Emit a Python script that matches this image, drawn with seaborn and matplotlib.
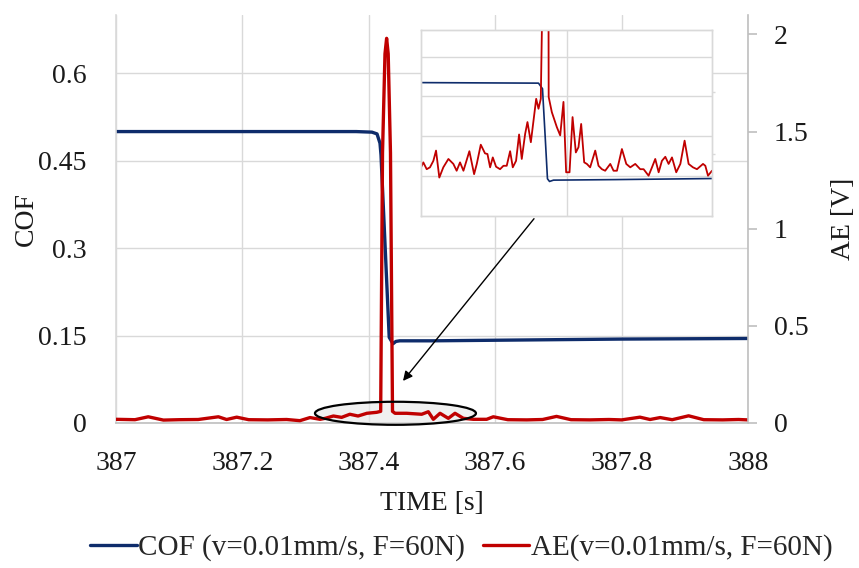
import numpy as np
import pandas as pd
import matplotlib
matplotlib.use("Agg")
import matplotlib.pyplot as plt
from matplotlib.patches import Ellipse
from matplotlib.lines import Line2D
import seaborn as sns

sns.set_theme(style="white")
plt.rcParams['font.family'] = ['Liberation Serif', 'DejaVu Serif']

# ---------------- data (main chart) ----------------
cof_time = [387.000, 387.200, 387.380, 387.405, 387.413, 387.4177, 387.4193,
            387.4323, 387.4383, 387.443, 387.449, 387.500, 387.600, 387.700,
            387.800, 388.000]
cof_value = [0.500, 0.500, 0.500, 0.499, 0.496, 0.480, 0.460,
             0.147, 0.136, 0.140, 0.141, 0.141, 0.142, 0.143,
             0.144, 0.145]

ae_time = [387.000, 387.030, 387.051, 387.075, 387.100, 387.130, 387.162, 387.175,
           387.191, 387.210, 387.240, 387.270, 387.291, 387.307, 387.323, 387.331,
           387.344, 387.357, 387.370, 387.383, 387.397, 387.4125, 387.4188, 387.4217,
           387.4256, 387.4282, 387.4307, 387.4343, 387.4375, 387.4415, 387.460,
           387.4837, 387.4942, 387.5021, 387.5127, 387.5258, 387.5364, 387.5496,
           387.5654, 387.5865, 387.597, 387.620, 387.650, 387.675, 387.697, 387.720,
           387.750, 387.780, 387.800, 387.829, 387.845, 387.861, 387.880, 387.906,
           387.930, 387.960, 387.985, 388.000]
ae_value = [0.019, 0.017, 0.032, 0.015, 0.017, 0.018, 0.032, 0.018,
            0.030, 0.017, 0.016, 0.018, 0.012, 0.028, 0.019, 0.024,
            0.036, 0.029, 0.045, 0.036, 0.050, 0.055, 0.060, 1.390,
            1.900, 1.980, 1.900, 1.390, 0.060, 0.050, 0.050,
            0.045, 0.058, 0.019, 0.050, 0.024, 0.050, 0.024,
            0.019, 0.019, 0.032, 0.017, 0.016, 0.018, 0.034, 0.017,
            0.016, 0.018, 0.016, 0.030, 0.018, 0.028, 0.017, 0.037,
            0.017, 0.016, 0.018, 0.016]

# ---------------- data (inset, zoomed view) ----------------
inset_cof_time = [387.320, 387.4169, 387.4202, 387.4224, 387.4243, 387.4260,
                  387.4293, 387.480, 387.520, 387.560]
inset_cof_value = [0.502, 0.500, 0.479, 0.300, 0.140, 0.130,
                   0.135, 0.137, 0.139, 0.141]

inset_ae_time = [387.3200, 387.3219, 387.3247, 387.3274, 387.3302, 387.3324, 387.3351,
                 387.3384, 387.3426, 387.3467, 387.3494, 387.3522, 387.3550, 387.3599,
                 387.3638, 387.3660, 387.3693, 387.3728, 387.3748, 387.3770, 387.3792,
                 387.3819, 387.3852, 387.3880, 387.3907, 387.3935, 387.3957, 387.3984,
                 387.4009, 387.4031, 387.4059, 387.4078, 387.4106, 387.4128, 387.4150,
                 387.4169, 387.4188, 387.4205, 387.4228, 387.4250, 387.4253, 387.4279,
                 387.4320, 387.4348, 387.4375, 387.4397, 387.4425, 387.4450, 387.4477,
                 387.4499, 387.4521, 387.4546, 387.4568, 387.4595, 387.4637, 387.4664,
                 387.4692, 387.4719, 387.4761, 387.4788, 387.4816, 387.4857, 387.4893,
                 387.4926, 387.4967, 387.5008, 387.5036, 387.5077, 387.5105, 387.5132,
                 387.5160, 387.5187, 387.5215, 387.5242, 387.5270, 387.5305, 387.5339,
                 387.5374, 387.5407, 387.5443, 387.5476, 387.5526, 387.5545, 387.5567,
                 387.5600]
inset_ae_value = [0.0157, 0.0173, 0.0151, 0.0157, 0.0178, 0.0211, 0.0124,
                  0.0157, 0.0184, 0.0168, 0.0146, 0.0173, 0.0146, 0.0209,
                  0.0135, 0.0168, 0.0230, 0.0202, 0.0200, 0.0157, 0.0189,
                  0.0159, 0.0151, 0.0162, 0.0162, 0.0209, 0.0157, 0.0178,
                  0.0263, 0.0184, 0.0265, 0.0303, 0.0238, 0.0308, 0.0378,
                  0.0346, 0.0378, 0.0800, 1.9800, 0.1000, 0.0384, 0.0335,
                  0.0287, 0.0260, 0.0368, 0.0141, 0.0141, 0.0319, 0.0205,
                  0.0222, 0.0297, 0.0173, 0.0168, 0.0157, 0.0211, 0.0162,
                  0.0151, 0.0146, 0.0168, 0.0146, 0.0146, 0.0216, 0.0168,
                  0.0157, 0.0168, 0.0151, 0.0151, 0.0130, 0.0157, 0.0184,
                  0.0141, 0.0178, 0.0191, 0.0168, 0.0189, 0.0141, 0.0168,
                  0.0243, 0.0168, 0.0157, 0.0151, 0.0168, 0.0162, 0.0130,
                  0.0146]

x_ticks = [387, 387.2, 387.4, 387.6, 387.8, 388]
x_ticklabels = ["387", "387.2", "387.4", "387.6", "387.8", "388"]
cof_ticks = [0, 0.15, 0.3, 0.45, 0.6]
cof_ticklabels = ["0", "0.15", "0.3", "0.45", "0.6"]
ae_ticks = [0, 0.5, 1, 1.5, 2]
ae_ticklabels = ["0", "0.5", "1", "1.5", "2"]

label_cof = "COF (v=0.01mm/s, F=60N)"
label_ae = "AE(v=0.01mm/s, F=60N)"

# ---------------- styles ----------------
BLUE = "#0E2C6B"
RED = "#C00000"
GRID = "#d9d9d9"
SPINE = "#bfbfbf"
FS = 20
FS_LEG = 21
TXT = "#1a1a1a"

W, H = 859, 568
fig = plt.figure(figsize=(W / 100, H / 100), dpi=100)

def px_axes(l, t, r, b):
    return [l / W, 1 - b / H, (r - l) / W, (b - t) / H]

ax = fig.add_axes(px_axes(116, 15, 748, 423))
ax2 = ax.twinx()

df_cof = pd.DataFrame({"t": cof_time, "v": cof_value})
df_ae = pd.DataFrame({"t": ae_time, "v": ae_value})

sns.lineplot(data=df_cof, x="t", y="v", ax=ax, color=BLUE, lw=2.4,
             estimator=None, legend=False)
sns.lineplot(data=df_ae, x="t", y="v", ax=ax2, color=RED, lw=2.4,
             estimator=None, legend=False)

ax.set_xlim(387, 388)
ax.set_ylim(0, 0.7)
ax2.set_ylim(0, 2.1)
ax.set_xticks(x_ticks, x_ticklabels)
ax.set_yticks(cof_ticks, cof_ticklabels)
ax2.set_yticks(ae_ticks, ae_ticklabels)

ax.grid(True, color=GRID, lw=1.0)
ax2.grid(False)
for a in (ax, ax2):
    a.spines["top"].set_visible(False)
    a.set_facecolor("none")
ax.spines["left"].set_color(GRID)
ax.spines["bottom"].set_color(SPINE)
ax.spines["right"].set_visible(False)
ax2.spines["left"].set_visible(False)
ax2.spines["bottom"].set_visible(False)
ax2.spines["right"].set_color(SPINE)
for s in ("left", "bottom"):
    ax.spines[s].set_linewidth(1.2)
ax2.spines["right"].set_linewidth(1.2)

ax.tick_params(axis="x", length=0, pad=20, labelsize=FS, colors=TXT)
ax.tick_params(axis="y", length=0, pad=21, labelsize=FS, colors=TXT)
ax2.tick_params(axis="y", length=6.5, width=1.2, color=SPINE, direction="out",
                pad=12, labelsize=FS, labelcolor=TXT)

ax.set_xlabel("TIME [s]", fontsize=FS, color=TXT)
ax.set_ylabel("COF", fontsize=FS, color=TXT)
ax2.set_ylabel("AE [V]", fontsize=FS, color=TXT)
ax.xaxis.label.set_va("center")
ax.yaxis.label.set_va("center")
ax2.yaxis.label.set_va("center")
ax.xaxis.set_label_coords(0.5, (423 - 504) / 408)
ax.yaxis.set_label_coords((26 - 116) / 632, 0.5)
ax2.yaxis.set_label_coords((843 - 116) / 632, 0.5)

# highlight ellipse around the spike base
ell_fill = Ellipse((387.4422, 0.05), 0.2547, 0.1186, facecolor="#e6e6e6",
                   alpha=0.6, edgecolor="none", zorder=1, clip_on=False)
ell_edge = Ellipse((387.4422, 0.05), 0.2547, 0.1186, facecolor="none",
                   edgecolor="black", lw=1.6, zorder=4, clip_on=False)
ax2.add_patch(ell_fill)
ax2.add_patch(ell_edge)

# arrow from inset to ellipse
ax2.annotate("", xy=(387.4541, 0.2165), xytext=(387.6614, 1.0515),
             arrowprops=dict(arrowstyle="-|>", color="black", lw=1.0,
                             mutation_scale=14, shrinkA=0, shrinkB=0),
             annotation_clip=False, zorder=5)

# ---------------- inset ----------------
axi = fig.add_axes(px_axes(421, 30, 712, 216))
axi.set_facecolor("white")
axi2 = axi.twinx()
df_icof = pd.DataFrame({"t": inset_cof_time, "v": inset_cof_value})
df_iae = pd.DataFrame({"t": inset_ae_time, "v": inset_ae_value})
sns.lineplot(data=df_icof, x="t", y="v", ax=axi, color=BLUE, lw=1.2,
             estimator=None, legend=False)
sns.lineplot(data=df_iae, x="t", y="v", ax=axi2, color=RED, lw=1.3,
             estimator=None, legend=False)
axi.set_xlim(387.32, 387.56)
axi.set_ylim(0, 0.7)
axi2.set_ylim(0, 0.06)
axi.set_xticks([387.44])
axi.set_yticks([0.15, 0.3, 0.45, 0.6])
axi2.set_yticks([0.02, 0.04])
axi.grid(True, color=GRID, lw=1.0)
axi2.grid(False)
axi.tick_params(length=0, labelleft=False, labelbottom=False)
axi2.tick_params(axis="y", length=2.5, width=1.0, color=GRID, labelright=False)
for a in (axi, axi2):
    a.set_xlabel("")
    a.set_ylabel("")
    for s in a.spines.values():
        s.set_color(GRID)
        s.set_linewidth(1.0)

# ---------------- legend ----------------
handles = [Line2D([], [], color=BLUE, lw=2.4), Line2D([], [], color=RED, lw=2.4)]
fig.legend(handles, [label_cof, label_ae], loc="center", ncol=2,
           bbox_to_anchor=(0.537, 1 - 548 / H), frameon=False, fontsize=FS_LEG,
           handlelength=1.6, handletextpad=0.05, columnspacing=0.6,
           borderpad=0.1)

fig.savefig("out.png", dpi=100)
